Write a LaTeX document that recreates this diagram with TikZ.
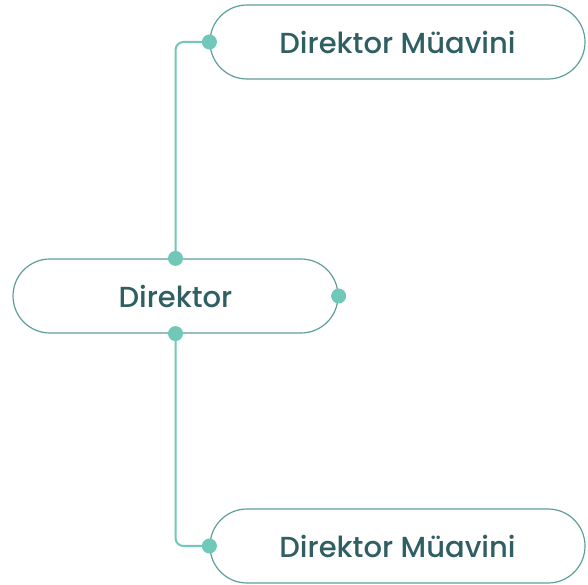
\documentclass[tikz,border=0pt]{standalone}
\usepackage{fontspec}
\setmainfont{Poppins}[UprightFont={* Medium}]
\usetikzlibrary{shapes.misc}
\definecolor{linec}{HTML}{6FC8B8}
\definecolor{borderc}{HTML}{5E9E9C}
\definecolor{textc}{HTML}{2F5F63}
\tikzset{
  pill/.style={rounded rectangle, draw=borderc, line width=1.2pt, fill=white, text=textc, font=\fontsize{29}{33}\selectfont, inner sep=0pt},
  conn/.style={draw=linec, line width=2pt, rounded corners=8pt},
  dotc/.style={circle, fill=linec, inner sep=0pt, minimum size=15pt}
}
\begin{document}
\begin{tikzpicture}[x=1pt,y=1pt]
\useasboundingbox (0,0) rectangle (588,585);
\node[pill, minimum width=325pt, minimum height=74pt] (dir) at (175.5,289) {Direktor};
\node[pill, minimum width=375pt, minimum height=74pt] (top) at (397.5,543) {Direktor Müavini};
\node[pill, minimum width=375pt, minimum height=74pt] (bot) at (397.5,39) {Direktor Müavini};
\coordinate (tc) at (dir.north |- top.west);
\coordinate (bc) at (dir.south |- bot.west);
\draw[conn] (dir.north) -- (tc) -- (top.west);
\draw[conn] (dir.south) -- (bc) -- (bot.west);
\node[dotc] at (dir.north) {};
\node[dotc] at (dir.south) {};
\node[dotc] at (dir.east) {};
\node[dotc] at (top.west) {};
\node[dotc] at (bot.west) {};
\end{tikzpicture}
\end{document}
